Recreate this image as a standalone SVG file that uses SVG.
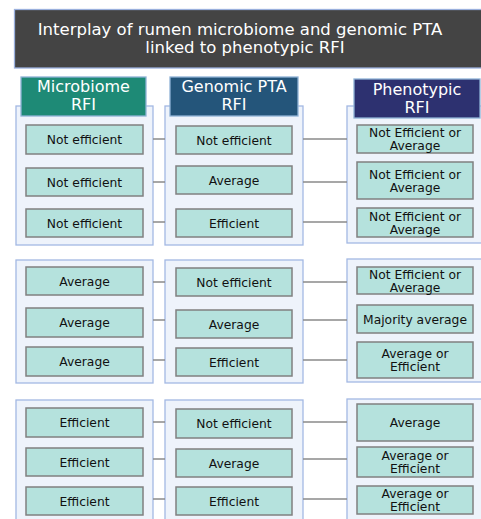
<svg xmlns="http://www.w3.org/2000/svg" width="481" height="519" viewBox="0 0 481 519">
<style>
text{font-family:"DejaVu Sans",Verdana,sans-serif;text-anchor:middle}
.title{fill:#ffffff;font-size:16.5px}
.hd{fill:#ffffff;font-size:16px}
.panel{fill:#eef3fb;stroke:#a3b8e3;stroke-width:1.3}
.node{fill:#b5e2dd;stroke:#808080;stroke-width:1.5}
.nt{fill:#111111;font-size:12.3px}
.conn line{stroke:#8a8a8a;stroke-width:1.5}
</style>
<rect width="481" height="519" fill="#ffffff"/>
<g id="title">
<rect x="14.5" y="9.5" width="475" height="58.5" fill="#444444" stroke="#9ab0dd" stroke-width="1.3"/>
<text class="title" x="240" y="35">Interplay of rumen microbiome and genomic PTA</text>
<text class="title" x="245" y="53">linked to phenotypic RFI</text>
</g>
<g id="panels">
<rect class="panel" x="16" y="106" width="137" height="139"/>
<rect class="panel" x="165" y="106" width="138" height="139"/>
<rect class="panel" x="347" y="106" width="140" height="137"/>
<rect class="panel" x="16" y="260" width="137" height="123"/>
<rect class="panel" x="165" y="260" width="138" height="123"/>
<rect class="panel" x="347" y="259" width="140" height="123"/>
<rect class="panel" x="16" y="400" width="137" height="125"/>
<rect class="panel" x="165" y="400" width="138" height="125"/>
<rect class="panel" x="347" y="399" width="140" height="126"/>
</g>
<g id="headers">
<g id="h-microbiome"><rect x="21" y="77" width="125" height="39" fill="#1e8a76" stroke="#8fb2d6" stroke-width="1.3"/><text class="hd" x="83.5" y="92">Microbiome</text><text class="hd" x="83.5" y="110">RFI</text></g>
<g id="h-genomic"><rect x="170" y="77" width="128" height="39" fill="#24557a" stroke="#8fb2d6" stroke-width="1.3"/><text class="hd" x="234" y="92">Genomic PTA</text><text class="hd" x="234" y="110">RFI</text></g>
<g id="h-phenotypic"><rect x="354" y="79" width="126" height="39" fill="#2d3170" stroke="#8fb2d6" stroke-width="1.3"/><text class="hd" x="417" y="95">Phenotypic</text><text class="hd" x="417" y="113">RFI</text></g>
</g>
<g id="connectors" class="conn">
<line x1="153" y1="139" x2="165" y2="139"/><line x1="303" y1="139" x2="347" y2="139"/>
<line x1="153" y1="182" x2="165" y2="182"/><line x1="303" y1="182" x2="347" y2="182"/>
<line x1="153" y1="222" x2="165" y2="222"/><line x1="303" y1="222" x2="347" y2="222"/>
<line x1="153" y1="282" x2="165" y2="282"/><line x1="303" y1="282" x2="347" y2="282"/>
<line x1="153" y1="320" x2="165" y2="320"/><line x1="303" y1="320" x2="347" y2="320"/>
<line x1="153" y1="360" x2="165" y2="360"/><line x1="303" y1="360" x2="347" y2="360"/>
<line x1="153" y1="422" x2="165" y2="422"/><line x1="303" y1="422" x2="347" y2="422"/>
<line x1="153" y1="459" x2="165" y2="459"/><line x1="303" y1="459" x2="347" y2="459"/>
<line x1="153" y1="499" x2="165" y2="499"/><line x1="303" y1="499" x2="347" y2="499"/>
</g>
<!-- Row 1 -->
<g id="m1"><rect class="node" x="26" y="125" width="117" height="29"/><text class="nt" x="84.5" y="144">Not efficient</text></g>
<g id="m2"><rect class="node" x="26" y="168" width="117" height="28"/><text class="nt" x="84.5" y="186.5">Not efficient</text></g>
<g id="m3"><rect class="node" x="26" y="209" width="117" height="28"/><text class="nt" x="84.5" y="227.5">Not efficient</text></g>
<g id="g1"><rect class="node" x="176" y="126" width="116" height="28"/><text class="nt" x="234" y="144.5">Not efficient</text></g>
<g id="g2"><rect class="node" x="176" y="166" width="116" height="28"/><text class="nt" x="234" y="184.5">Average</text></g>
<g id="g3"><rect class="node" x="176" y="209" width="116" height="28"/><text class="nt" x="234" y="227.5">Efficient</text></g>
<g id="p1"><rect class="node" x="357" y="125" width="116" height="28"/><text class="nt" x="415" y="137">Not Efficient or</text><text class="nt" x="415" y="150">Average</text></g>
<g id="p2"><rect class="node" x="357" y="162" width="116" height="37"/><text class="nt" x="415" y="179">Not Efficient or</text><text class="nt" x="415" y="192">Average</text></g>
<g id="p3"><rect class="node" x="357" y="208" width="116" height="29"/><text class="nt" x="415" y="221">Not Efficient or</text><text class="nt" x="415" y="234">Average</text></g>
<!-- Row 2 -->
<g id="m4"><rect class="node" x="26" y="267" width="117" height="28"/><text class="nt" x="84.5" y="285.5">Average</text></g>
<g id="m5"><rect class="node" x="26" y="308" width="117" height="29"/><text class="nt" x="84.5" y="327">Average</text></g>
<g id="m6"><rect class="node" x="26" y="347" width="117" height="29"/><text class="nt" x="84.5" y="366">Average</text></g>
<g id="g4"><rect class="node" x="176" y="268" width="116" height="28"/><text class="nt" x="234" y="286.5">Not efficient</text></g>
<g id="g5"><rect class="node" x="176" y="310" width="116" height="28"/><text class="nt" x="234" y="328.5">Average</text></g>
<g id="g6"><rect class="node" x="176" y="348" width="116" height="28"/><text class="nt" x="234" y="366.5">Efficient</text></g>
<g id="p4"><rect class="node" x="357" y="267" width="116" height="27"/><text class="nt" x="415" y="279">Not Efficient or</text><text class="nt" x="415" y="292">Average</text></g>
<g id="p5"><rect class="node" x="357" y="305" width="116" height="28"/><text class="nt" x="415" y="323.5">Majority average</text></g>
<g id="p6"><rect class="node" x="357" y="342" width="116" height="36"/><text class="nt" x="415" y="358">Average or</text><text class="nt" x="415" y="371">Efficient</text></g>
<!-- Row 3 -->
<g id="m7"><rect class="node" x="26" y="408" width="117" height="29"/><text class="nt" x="84.5" y="427">Efficient</text></g>
<g id="m8"><rect class="node" x="26" y="448" width="117" height="28"/><text class="nt" x="84.5" y="466.5">Efficient</text></g>
<g id="m9"><rect class="node" x="26" y="487" width="117" height="28"/><text class="nt" x="84.5" y="505.5">Efficient</text></g>
<g id="g7"><rect class="node" x="176" y="409" width="116" height="29"/><text class="nt" x="234" y="428">Not efficient</text></g>
<g id="g8"><rect class="node" x="176" y="449" width="116" height="28"/><text class="nt" x="234" y="467.5">Average</text></g>
<g id="g9"><rect class="node" x="176" y="487" width="116" height="28"/><text class="nt" x="234" y="505.5">Efficient</text></g>
<g id="p7"><rect class="node" x="357" y="404" width="116" height="37"/><text class="nt" x="415" y="427">Average</text></g>
<g id="p8"><rect class="node" x="357" y="447" width="116" height="30"/><text class="nt" x="415" y="460">Average or</text><text class="nt" x="415" y="473">Efficient</text></g>
<g id="p9"><rect class="node" x="357" y="486" width="116" height="28"/><text class="nt" x="415" y="498">Average or</text><text class="nt" x="415" y="511">Efficient</text></g>
</svg>
